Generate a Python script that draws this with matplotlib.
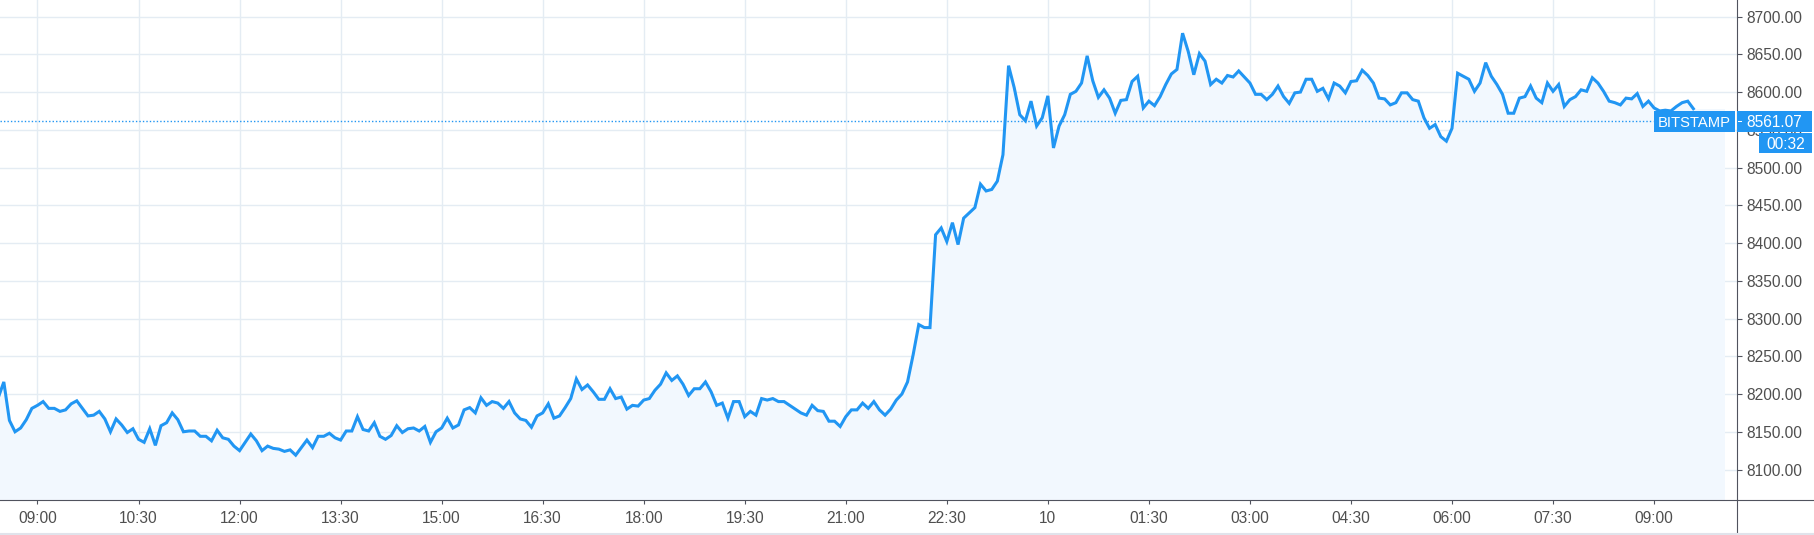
# ============================================================
# IMPORTS
# ============================================================

import matplotlib
matplotlib.use("Agg")

import matplotlib.pyplot as plt
import matplotlib.transforms as mtransforms
from matplotlib.lines import Line2D
from matplotlib.patches import Rectangle
import numpy as np


# ============================================================
# DATA (BTC/USD, Bitstamp, 5 minute samples)
# ============================================================

START_MINUTE = -35      # 08:25, minutes relative to 09:00 of day one
STEP_MINUTES = 5

prices = [
    8195, 8216, 8165, 8150, 8155, 8166, 8181, 8185, 8190, 8181,
    8181, 8177, 8179, 8187, 8191, 8181, 8171, 8172, 8177, 8167,
    8150, 8167, 8159, 8149, 8154, 8140, 8136, 8154, 8132, 8158,
    8162, 8175, 8166, 8150, 8151, 8151, 8144, 8144, 8138, 8152,
    8142, 8140, 8131, 8125, 8136, 8147, 8138, 8125, 8131, 8128,
    8127, 8124, 8126, 8119, 8129, 8139, 8129, 8144, 8144, 8148,
    8142, 8139, 8151, 8151, 8170, 8153, 8151, 8162, 8144, 8140,
    8145, 8158, 8149, 8154, 8155, 8151, 8157, 8136, 8150, 8155,
    8168, 8155, 8159, 8179, 8182, 8175, 8195, 8185, 8190, 8188,
    8181, 8190, 8175, 8167, 8165, 8156, 8171, 8175, 8187, 8168,
    8171, 8182, 8194, 8220, 8206, 8212, 8203, 8193, 8193, 8207,
    8194, 8196, 8180, 8185, 8184, 8192, 8194, 8205, 8213, 8228,
    8218, 8224, 8213, 8198, 8207, 8207, 8216, 8203, 8185, 8188,
    8168, 8190, 8190, 8170, 8177, 8172, 8194, 8192, 8194, 8190,
    8190, 8185, 8180, 8175, 8172, 8185, 8178, 8177, 8164, 8164,
    8157, 8170, 8179, 8179, 8188, 8181, 8190, 8179, 8172, 8180,
    8192, 8200, 8216, 8252, 8292, 8288, 8288, 8411, 8420, 8402,
    8427, 8398, 8433, 8440, 8447, 8478, 8469, 8471, 8482, 8517,
    8635, 8606, 8570, 8562, 8588, 8555, 8566, 8595, 8526, 8555,
    8570, 8597, 8601, 8612, 8648, 8615, 8593, 8603, 8592, 8572,
    8589, 8590, 8614, 8621, 8579, 8588, 8582, 8594, 8610, 8624,
    8630, 8678, 8654, 8623, 8651, 8641, 8610, 8617, 8612, 8622,
    8620, 8628, 8620, 8612, 8597, 8597, 8590, 8597, 8608, 8594,
    8585, 8599, 8600, 8617, 8617, 8601, 8605, 8591, 8612, 8608,
    8599, 8614, 8615, 8629, 8622, 8612, 8592, 8591, 8583, 8586,
    8599, 8599, 8590, 8588, 8566, 8552, 8557, 8541, 8535, 8552,
    8625, 8621, 8617, 8601, 8612, 8639, 8621, 8610, 8597, 8572,
    8572, 8592, 8594, 8608, 8592, 8586, 8612, 8601, 8610, 8581,
    8590, 8594, 8603, 8601, 8619, 8612, 8601, 8588, 8586, 8583,
    8592, 8591, 8598, 8581, 8588, 8579, 8575, 8576, 8575, 8581,
    8586, 8588, 8578,
]

tick_minutes = [0, 90, 180, 270, 360, 450, 540, 630, 720, 810,
                900, 990, 1080, 1170, 1260, 1350, 1440]
tick_labels = ["09:00", "10:30", "12:00", "13:30", "15:00", "16:30",
               "18:00", "19:30", "21:00", "22:30", "10", "01:30",
               "03:00", "04:30", "06:00", "07:30", "09:00"]

price_ticks = list(range(8100, 8701, 50))

exchange = "BITSTAMP"
last_price = 8561.07
countdown = "00:32"


# ============================================================
# STYLE
# ============================================================

LINE_COLOR = "#2196f3"
FILL_COLOR = "#f2f8fe"
GRID_COLOR = "#e4ecf3"
AXIS_COLOR = "#50535e"
TEXT_COLOR = "#4f4f4f"

plt.rcParams["font.family"] = ["Liberation Sans", "DejaVu Sans"]

X_MIN, X_MAX = -33.4, 1513.6
Y_MIN, Y_MAX = 8059.6, 8722.0


# ============================================================
# FIGURE
# ============================================================

minutes = START_MINUTE + STEP_MINUTES * np.arange(len(prices))

fig = plt.figure(figsize=(18.14, 5.35), dpi=100)
ax = fig.add_axes([0.0, 35 / 535, 1736.7 / 1814, 500 / 535])

ax.fill_between(minutes, prices, Y_MIN, color=FILL_COLOR, lw=0, zorder=1)
ax.fill_between([minutes[-1], minutes[-1] + 28], prices[-1], Y_MIN,
                color=FILL_COLOR, lw=0, zorder=1)

ax.plot(minutes, prices, color=LINE_COLOR, linewidth=2.2,
        solid_joinstyle="miter", zorder=3)

ax.axhline(last_price, xmax=0.952, color=LINE_COLOR, linewidth=1,
           linestyle=(0, (1, 1.5)), zorder=2)

ax.set_xlim(X_MIN, X_MAX)
ax.set_ylim(Y_MIN, Y_MAX)

ax.set_xticks(tick_minutes)
ax.set_xticklabels(tick_labels)
ax.set_yticks(price_ticks)
ax.set_yticklabels([f"{p:.2f}" for p in price_ticks])

ax.yaxis.tick_right()
ax.tick_params(axis="y", direction="out", length=3.6, width=0.8,
               color=AXIS_COLOR, pad=3.6, labelsize=11.2,
               labelcolor=TEXT_COLOR)
ax.tick_params(axis="x", direction="out", length=2.9, width=0.8,
               color=AXIS_COLOR, pad=5, labelsize=11.2,
               labelcolor=TEXT_COLOR)

ax.grid(True, color=GRID_COLOR, linewidth=1)
ax.set_axisbelow(True)

for side in ["top", "left"]:
    ax.spines[side].set_visible(False)
for side in ["right", "bottom"]:
    ax.spines[side].set_color(AXIS_COLOR)
    ax.spines[side].set_linewidth(0.8)

# axis lines continue into the price / time scale corner
x_axis_edge = 1736.7 / 1814
y_axis_edge = 35 / 535
fig.add_artist(Line2D([x_axis_edge, 1], [y_axis_edge, y_axis_edge],
                      transform=fig.transFigure, color=AXIS_COLOR, lw=0.8))
fig.add_artist(Line2D([x_axis_edge, x_axis_edge], [2.5 / 535, y_axis_edge],
                      transform=fig.transFigure, color=AXIS_COLOR, lw=0.8))
fig.add_artist(Line2D([0, 1], [1.5 / 535, 1.5 / 535],
                      transform=fig.transFigure, color="#e0e3eb", lw=1.5))


# ============================================================
# LAST PRICE LABELS
# ============================================================

blend = mtransforms.blended_transform_factory(ax.transAxes, ax.transData)
box_h = 21 / 0.7548

ax.add_patch(Rectangle((1654 / 1736.7, last_price - box_h / 2),
                       80.5 / 1736.7, box_h, transform=blend,
                       facecolor=LINE_COLOR, edgecolor="none",
                       clip_on=False, zorder=5))
ax.text(1694 / 1736.7, last_price, exchange, transform=blend,
        ha="center", va="center_baseline", color="white", fontsize=10.6,
        zorder=6, clip_on=False)

ax.add_patch(Rectangle((1.0, last_price - box_h / 2),
                       75.5 / 1736.7, box_h, transform=blend,
                       facecolor=LINE_COLOR, edgecolor="none",
                       clip_on=False, zorder=5))
ax.add_patch(Rectangle((1.0005, last_price - 0.6),
                       4 / 1736.7, 1.2, transform=blend,
                       facecolor="white", edgecolor="none",
                       clip_on=False, zorder=6))
ax.text(1746.2 / 1736.7, last_price, f"{last_price:.2f}", transform=blend,
        ha="left", va="center_baseline", color="white", fontsize=11.2,
        zorder=6, clip_on=False)

count_y = last_price - 28.5
ax.add_patch(Rectangle((1759 / 1736.7, count_y - 20 / 0.7548 / 2),
                       53 / 1736.7, 20 / 0.7548, transform=blend,
                       facecolor=LINE_COLOR, edgecolor="none",
                       clip_on=False, zorder=5))
ax.text(1785.5 / 1736.7, count_y, countdown, transform=blend,
        ha="center", va="center_baseline", color="white", fontsize=11.2,
        zorder=6, clip_on=False)

fig.savefig("out.png", dpi=100, facecolor="white")
